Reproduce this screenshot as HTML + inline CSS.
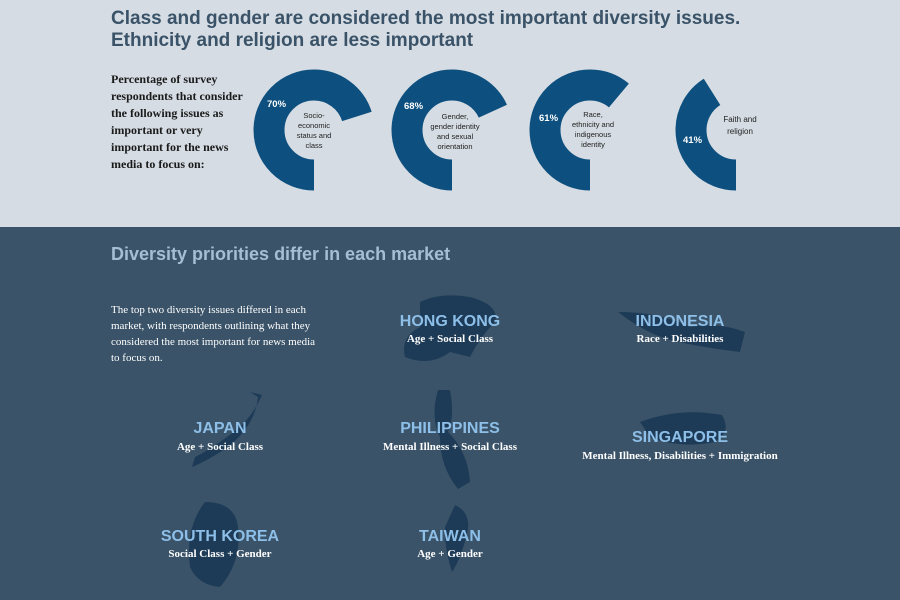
<!DOCTYPE html>
<html><head><meta charset="utf-8"><style>
body{margin:0;width:900px;height:600px;overflow:hidden;font-family:"Liberation Sans",sans-serif}
.top{position:absolute;left:0;top:0;width:900px;height:227px;background:#d5dce3}
.bot{position:absolute;left:0;top:227px;width:900px;height:373px;background:#3a5368}
.t{position:absolute;font-weight:bold}
.serif{font-family:"Liberation Serif",serif}
.name{position:absolute;color:#8dbfe8;font-weight:bold;font-size:16px;text-align:center;width:260px;margin-left:-130px}
.sub{position:absolute;color:#fff;font-family:"Liberation Serif",serif;font-weight:bold;font-size:11px;text-align:center;width:260px;margin-left:-130px}
</style></head><body>
<div class="top"></div><div class="bot"></div>
<div class="t" style="left:111px;top:8px;font-size:19px;line-height:22px;color:#3a5368">Class and gender are considered the most important diversity issues.<br>Ethnicity and religion are less important</div>
<div class="t serif" style="left:111px;top:71px;font-size:12px;line-height:17px;color:#1a1a1a">Percentage of survey<br>respondents that consider<br>the following issues as<br>important or very<br>important for the news<br>media to focus on:</div>
<svg style="position:absolute;left:0;top:0" width="900" height="227">
<g fill="none" stroke="#0d4f7e" stroke-width="31">
<circle cx="314" cy="130" r="45" stroke-dasharray="197.9 400" transform="rotate(90 314 130)"/>
<circle cx="452" cy="130" r="45" stroke-dasharray="192.3 400" transform="rotate(90 452 130)"/>
<circle cx="590" cy="130" r="45" stroke-dasharray="172.5 400" transform="rotate(90 590 130)"/>
<circle cx="736" cy="130" r="45" stroke-dasharray="115.9 400" transform="rotate(90 736 130)"/>
</g>
<g font-family="Liberation Sans,sans-serif" font-size="9.5" fill="#fff" font-weight="bold">
<text x="267" y="107">70%</text><text x="404" y="109">68%</text><text x="539" y="121">61%</text><text x="683" y="143">41%</text></g>
<g font-family="Liberation Sans,sans-serif" font-size="7.5" fill="#222" text-anchor="middle">
<text x="314" y="118">Socio-</text><text x="314" y="128">economic</text><text x="314" y="138">status and</text><text x="314" y="148">class</text>
<text x="455" y="119">Gender,</text><text x="455" y="129">gender identity</text><text x="455" y="139">and sexual</text><text x="455" y="149">orientation</text>
<text x="593" y="117">Race,</text><text x="593" y="127">ethnicity and</text><text x="593" y="137">indigenous</text><text x="593" y="147">identity</text>
<text x="740" y="122" font-size="8">Faith and</text><text x="740" y="134" font-size="8">religion</text></g>
</svg>
<div class="t" style="left:111px;top:244px;font-size:18px;color:#a6bed3">Diversity priorities differ in each market</div>
<div class="serif" style="position:absolute;left:111px;top:302px;font-size:11px;line-height:16px;color:#fff">The top two diversity issues differed in each<br>market, with respondents outlining what they<br>considered the most important for news media<br>to focus on.</div>
<svg style="position:absolute;left:0;top:227px" width="900" height="373" fill="#1d3b57">
<path d="M420 75 Q440 65 470 70 Q500 78 495 95 Q480 110 470 130 L450 125 Q430 140 405 130 Q400 110 420 100 Z"/>
<path d="M618 85 Q660 85 690 100 Q720 95 745 105 L740 125 Q700 120 680 115 Q650 110 618 85Z"/>
<path d="M250 165 L262 168 Q255 185 240 200 Q215 220 195 230 L192 240 Q205 235 225 222 Q255 200 258 170Z"/>
<path d="M438 163 L450 163 Q455 190 448 205 Q468 225 470 255 L458 262 Q440 240 440 210 Q430 190 438 163Z"/>
<path d="M640 195 Q680 180 722 188 Q732 205 715 215 Q680 222 650 210 Z"/>
<path d="M205 275 Q235 275 238 300 Q242 335 220 360 Q198 358 190 340 Q185 300 205 275Z"/>
<path d="M455 278 Q470 285 468 302 Q462 330 452 345 Q444 320 445 300Z"/>
</svg>
<div class="name" style="left:450px;top:313px">HONG KONG</div><div class="sub" style="left:450px;top:333px">Age + Social Class</div>
<div class="name" style="left:680px;top:313px">INDONESIA</div><div class="sub" style="left:680px;top:333px">Race + Disabilities</div>
<div class="name" style="left:220px;top:420px">JAPAN</div><div class="sub" style="left:220px;top:441px">Age + Social Class</div>
<div class="name" style="left:450px;top:420px">PHILIPPINES</div><div class="sub" style="left:450px;top:441px">Mental Illness + Social Class</div>
<div class="name" style="left:680px;top:429px">SINGAPORE</div><div class="sub" style="left:680px;top:450px">Mental Illness, Disabilities + Immigration</div>
<div class="name" style="left:220px;top:528px">SOUTH KOREA</div><div class="sub" style="left:220px;top:548px">Social Class + Gender</div>
<div class="name" style="left:450px;top:528px">TAIWAN</div><div class="sub" style="left:450px;top:548px">Age + Gender</div>
</body></html>
